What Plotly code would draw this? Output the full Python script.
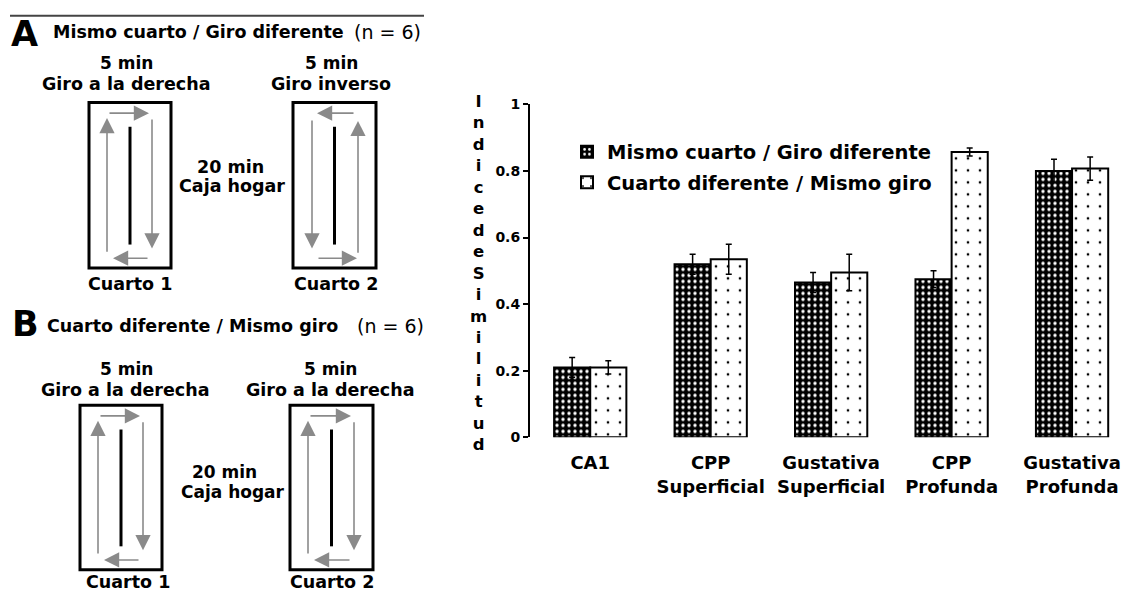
import plotly.graph_objects as go

# Similarity index per brain region, two conditions
regions = ["CA1", "CPP<br>Superficial", "Gustativa<br>Superficial", "CPP<br>Profunda", "Gustativa<br>Profunda"]
same_room_label = "Mismo cuarto / Giro diferente"
diff_room_label = "Cuarto diferente / Mismo giro"
same_room_vals = [0.21, 0.52, 0.465, 0.475, 0.80]
same_room_err = [0.03, 0.03, 0.03, 0.025, 0.035]
diff_room_vals = [0.21, 0.535, 0.495, 0.857, 0.807]
diff_room_err = [0.02, 0.045, 0.055, 0.012, 0.035]
y_ticks = [0, 0.2, 0.4, 0.6, 0.8, 1]
y_tick_text = ["0", "0.2", "0.4", "0.6", "0.8", "1"]
y_title = "Indice de Similitud"

W, H = 1127, 603
FONT = "DejaVu Sans"
GRAY = "#8a8a8a"

fig = go.Figure()

fig.add_trace(go.Bar(
    x=regions, y=same_room_vals, name=same_room_label, legendgroup="a",
    marker=dict(color="black", line=dict(color="black", width=2),
                pattern=dict(shape=".", bgcolor="black", fgcolor="white",
                             size=6, solidity=0.25, fillmode="replace")),
    error_y=dict(type="data", array=same_room_err, color="black", thickness=1.5, width=3),
))
fig.add_trace(go.Bar(
    x=regions, y=diff_room_vals, name=diff_room_label, legendgroup="b",
    marker=dict(color="white", line=dict(color="black", width=2),
                pattern=dict(shape=".", bgcolor="white", fgcolor="black",
                             size=12, solidity=0.04, fillmode="replace")),
    error_y=dict(type="data", array=diff_room_err, color="black", thickness=1.5, width=3),
))

# ---- schematic panels (left), drawn on a pixel-scaled helper axis ----
shapes = []
annotations = []


def px_text(x, y, text, size=18, bold=True, xanchor="center", family=FONT):
    annotations.append(dict(
        x=x, y=y, xref="x2", yref="y2", text=text, showarrow=False,
        xanchor=xanchor, yanchor="middle",
        font=dict(family=family, size=size, color="black",
                  weight="bold" if bold else "normal")))


def px_arrow(tail, tip):
    annotations.append(dict(
        x=tip[0], y=tip[1], ax=tail[0], ay=tail[1],
        xref="x2", yref="y2", axref="x2", ayref="y2", text="",
        showarrow=True, arrowhead=2, arrowsize=1.9, arrowwidth=1.6,
        arrowcolor=GRAY, standoff=0, startstandoff=0))


def arena(L, T, R, B, clockwise=True):
    shapes.append(dict(type="rect", xref="x2", yref="y2", x0=L, y0=T, x1=R, y1=B,
                       line=dict(color="black", width=3), fillcolor="rgba(0,0,0,0)"))
    cx = (L + R) / 2
    shapes.append(dict(type="line", xref="x2", yref="y2", x0=cx, y0=T + 25, x1=cx, y1=B - 24,
                       line=dict(color="black", width=3)))
    if clockwise:
        px_arrow((L + 18, B - 15), (L + 18, T + 16))
        px_arrow((L + 19, T + 11), (R - 22, T + 11))
        px_arrow((R - 19, T + 16), (R - 19, B - 20))
        px_arrow((R - 22, B - 10), (L + 24, B - 10))
    else:
        px_arrow((R - 21, T + 11), (L + 24, T + 11))
        px_arrow((L + 19, T + 17), (L + 19, B - 20))
        px_arrow((L + 24, B - 10), (R - 19, B - 10))
        px_arrow((R - 18, B - 14), (R - 18, T + 19))


# top rule
shapes.append(dict(type="line", xref="x2", yref="y2", x0=10, y0=8, x1=424, y1=8,
                   line=dict(color="#444444", width=2)))

# Panel A
px_text(9, 27, "A", size=35, xanchor="left")
px_text(51, 25, "Mismo cuarto / Giro diferente", size=17.5, xanchor="left")
px_text(352, 25, "(n = 6)", size=19, bold=False, xanchor="left")
px_text(126, 57, "5 min", size=17)
px_text(126, 78, "Giro a la derecha", size=17.5)
px_text(331, 57, "5 min", size=17)
px_text(331, 78, "Giro inverso", size=17.5)
arena(89, 97, 171, 267, clockwise=True)
arena(293, 97, 376, 267, clockwise=False)
px_text(230, 163, "20 min", size=17.5)
px_text(232, 183, "Caja hogar", size=17.5)
px_text(130, 284, "Cuarto 1", size=17.5)
px_text(336, 284, "Cuarto 2", size=17.5)

# Panel B
px_text(10, 325, "B", size=35, xanchor="left")
px_text(45, 327, "Cuarto diferente / Mismo giro", size=17.5, xanchor="left")
px_text(355, 327, "(n = 6)", size=19, bold=False, xanchor="left")
px_text(126, 371, "5 min", size=17)
px_text(125, 392, "Giro a la derecha", size=17.5)
px_text(330, 371, "5 min", size=17)
px_text(330, 392, "Giro a la derecha", size=17.5)
arena(80, 408, 162, 577, clockwise=True)
arena(290, 408, 373, 577, clockwise=True)
px_text(224, 477, "20 min", size=17)
px_text(233, 497, "Caja hogar", size=17)
px_text(128, 590, "Cuarto 1", size=17.5)
px_text(332, 590, "Cuarto 2", size=17.5)

# vertical y-axis title, one letter per line
annotations.append(dict(
    x=478 / W, y=1 - 272 / H, xref="paper", yref="paper", showarrow=False,
    text="<br>".join(ch for ch in y_title if ch != " "),
    xanchor="center", yanchor="middle",
    font=dict(family=FONT, size=16.5, color="black", weight="bold")))

fig.update_layout(
    width=W, height=H,
    margin=dict(l=0, r=0, t=0, b=0),
    paper_bgcolor="white", plot_bgcolor="white",
    barmode="group", bargap=0.4, bargroupgap=0,
    showlegend=True,
    legend=dict(x=567 / W, y=1 - 128 / H, xanchor="left", yanchor="top",
                bgcolor="rgba(0,0,0,0)", traceorder="grouped", tracegroupgap=2,
                font=dict(family=FONT, size=19.5, color="black", weight="bold")),
    xaxis=dict(domain=[530 / W, 1.0], range=[-0.5, 4.456], showline=False,
               showgrid=False, zeroline=False, ticks="",
               tickfont=dict(family=FONT, size=18, color="black", weight="bold"),
               ticklabelstandoff=13),
    yaxis=dict(domain=[1 - 441 / H, 1 - 99 / H], range=[0, 1], showline=True,
               linecolor="black", linewidth=2, showgrid=False, zeroline=False,
               ticks="outside", ticklen=5, tickwidth=1.5, tickcolor="black",
               tickvals=y_ticks, ticktext=y_tick_text,
               tickfont=dict(family=FONT, size=14, color="black", weight="bold")),
    xaxis2=dict(domain=[0, 430 / W], range=[0, 430], visible=False, fixedrange=True,
                anchor="y2"),
    yaxis2=dict(domain=[0, 1], range=[603, 0], visible=False, fixedrange=True,
                anchor="x2"),
    shapes=shapes,
    annotations=annotations,
)
# invisible point so the helper axis pair is rendered
fig.add_trace(go.Scatter(x=[0], y=[0], xaxis="x2", yaxis="y2", mode="markers",
                         marker=dict(opacity=0), showlegend=False, hoverinfo="skip"))

fig.write_html("out.html")
